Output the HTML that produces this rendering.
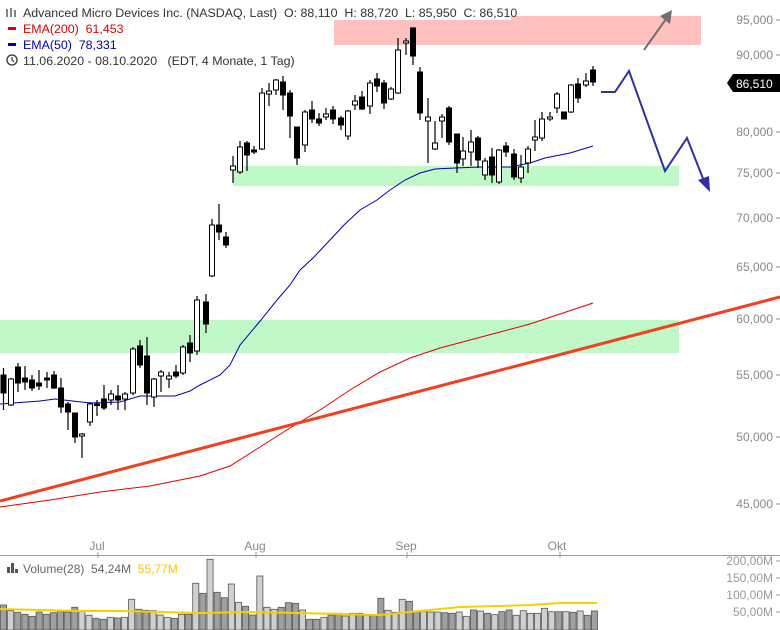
<!DOCTYPE html>
<html><head><meta charset="utf-8"><style>
body{margin:0;background:#fff;}
svg{display:block;font-family:"Liberation Sans",sans-serif;}
text{white-space:pre;}
</style></head><body>
<svg id="s" width="780" height="630" viewBox="0 0 780 630" xmlns="http://www.w3.org/2000/svg">
<rect x="0" y="0" width="780" height="630" fill="#fff"/>
<rect x="334" y="16" width="367" height="29" fill="#ffc0c0"/>
<rect x="0" y="320" width="679" height="33" fill="#c0f8c8"/>
<rect x="233" y="166" width="446" height="20" fill="#c0f8c8"/>
<rect x="0" y="0" width="511" height="20" fill="#fff"/>
<polyline fill="none" stroke="#e00000" stroke-width="1" points="0,507 50,500 100,492 150,486 200,476 230,466 260,447 290,428 320,410 350,390 380,372 410,358 440,348 470,340 500,332 530,324 560,314 593,303"/>
<polyline fill="none" stroke="#0000b0" stroke-width="1" points="0,404 40,401 55,399 90,403 120,402 140,396 175,396 190,391 200,385 220,375 230,365 240,345 261,320 277,300 290,285 300,270 313,258 330,240 345,224 360,210 377,200 390,190 405,180 420,173 435,169 455,168 480,167 510,167 530,163 545,158 570,153 593,146"/>
<line x1="0" y1="501" x2="780" y2="297" stroke="#f04020" stroke-width="3"/>
<g id="candles"></g>
<polyline fill="none" stroke="#3030a0" stroke-width="2" points="601,92 615,92 629,71 665,171 687,138 704,181"/>
<polygon points="698,180 710,192 709,176" fill="#3030a0"/>
<line x1="644" y1="50" x2="666" y2="19" stroke="#707070" stroke-width="2"/>
<polygon points="660,16 672,10 670,24" fill="#707070"/>
<g font-size="12" fill="#888" text-anchor="end">
<text x="773" y="24">95,000</text>
<text x="773" y="59">90,000</text>
<text x="773" y="136">80,000</text>
<text x="773" y="177">75,000</text>
<text x="773" y="222">70,000</text>
<text x="773" y="271">65,000</text>
<text x="773" y="323">60,000</text>
<text x="773" y="379">55,000</text>
<text x="773" y="441">50,000</text>
<text x="773" y="508">45,000</text>
</g>
<g stroke="#888"><line x1="776" y1="20" x2="780" y2="20"/><line x1="776" y1="55" x2="780" y2="55"/><line x1="776" y1="132" x2="780" y2="132"/><line x1="776" y1="173" x2="780" y2="173"/><line x1="776" y1="218" x2="780" y2="218"/><line x1="776" y1="267" x2="780" y2="267"/><line x1="776" y1="319" x2="780" y2="319"/><line x1="776" y1="375" x2="780" y2="375"/><line x1="776" y1="437" x2="780" y2="437"/><line x1="776" y1="504" x2="780" y2="504"/></g>
<polygon points="727,83 733,74 780,74 780,92 733,92" fill="#000"/>
<text x="736" y="88" font-size="12" fill="#fff">86,510</text>
<line x1="0" y1="555.5" x2="780" y2="555.5" stroke="#999"/>
<g stroke="#999"><line x1="98" y1="552" x2="98" y2="558"/><line x1="256" y1="552" x2="256" y2="558"/><line x1="407" y1="552" x2="407" y2="558"/><line x1="560" y1="552" x2="560" y2="558"/></g>
<g font-size="12" fill="#888" text-anchor="middle">
<text x="97" y="550">Jul</text><text x="255" y="550">Aug</text><text x="406" y="550">Sep</text><text x="557" y="550">Okt</text>
</g>
<g id="vol"></g>
<polyline fill="none" stroke="#f8d000" stroke-width="2" points="0,609 40,610 80,611 120,611 160,612 200,613 250,612 300,613 340,614 380,615 420,611 460,607 500,606 530,605 560,603 597,603"/>
<g font-size="12" fill="#999" text-anchor="end">
<text x="773" y="565">200,00M</text><text x="773" y="582">150,00M</text><text x="773" y="599">100,00M</text><text x="773" y="616">50,00M</text>
</g>
<g stroke="#999"><line x1="776" y1="561" x2="780" y2="561"/><line x1="776" y1="578" x2="780" y2="578"/><line x1="776" y1="595" x2="780" y2="595"/><line x1="776" y1="612" x2="780" y2="612"/></g>
<rect x="7" y="567" width="3" height="6" fill="#555"/><rect x="11" y="563" width="3" height="10" fill="#555"/><rect x="15" y="569" width="3" height="4" fill="#555"/>
<text x="23" y="573" font-size="12" fill="#666">Volume(28)  54,24M  <tspan fill="#f8c800">55,77M</tspan></text>
<g font-size="12.4">
<g stroke="#333" stroke-width="1.2"><line x1="7" y1="9" x2="7" y2="17"/><line x1="11" y1="8" x2="11" y2="17"/><line x1="15" y1="10" x2="15" y2="17"/></g>
<text x="23" y="17" fill="#333">Advanced Micro Devices Inc. (NASDAQ, Last)  O: 88,110  H: 88,720  L: 85,950  C: 86,510</text>
<rect x="8" y="27" width="8" height="3" fill="#e00000"/>
<text x="23" y="33" fill="#e00000">EMA(200)  61,453</text>
<rect x="8" y="43" width="8" height="3" fill="#0000b0"/>
<text x="23" y="49" fill="#0000b0">EMA(50)  78,331</text>
<circle cx="12" cy="60" r="5" fill="none" stroke="#333" stroke-width="1.3"/><path d="M12 57 V60 L14 62" fill="none" stroke="#333" stroke-width="1.2"/>
<text x="23" y="65" fill="#333">11.06.2020 - 08.10.2020   (EDT, 4 Monate, 1 Tag)</text>
</g>
</svg>
<script>
var C=[[3.5,375,393,0,368,410],[11,379,405,1,378,406],[18,367,383,0,363,392],[25,378,382,0,366,390],[32,380,388,0,375,391],[39,383,386,0,370,390],[47,378,380,0,372,388],[54,375,388,0,371,389],[61,388,407,0,378,413],[68,404,412,0,402,430],[75,413,437,0,413,443],[82,434,436,1,433,458],[90,404,422,1,402,426],[97,404,405,0,400,416],[104,399,408,0,385,410],[111,394,400,1,390,405],[118,396,400,0,385,410],[125,394,399,1,392,410],[133,349,393,1,347,395],[140,346,365,0,340,368],[147,356,393,0,337,405],[154,379,397,1,378,407],[161,372,376,1,370,392],[169,376,379,1,372,388],[176,372,376,0,365,378],[183,347,373,1,345,375],[190,343,353,0,335,362],[197,300,351,1,296,355],[206,302,324,0,294,333],[212,225,276,1,219,277],[219,225,232,0,204,240],[226,237,245,0,232,248],[233,166,170,1,156,183],[240,147,172,1,141,174],[247,143,155,0,141,171],[254,150,152,0,146,154],[262,93,149,1,88,150],[269,91,94,1,83,106],[276,80,90,1,79,95],[283,82,95,0,76,110],[290,93,116,0,90,138],[297,127,158,0,127,165],[305,112,145,1,110,152],[312,110,119,0,101,123],[319,119,123,0,113,126],[326,114,117,1,108,120],[333,110,119,0,106,124],[341,118,125,0,116,130],[348,111,136,1,110,140],[355,101,105,1,95,110],[362,97,109,0,91,110],[370,83,106,1,80,114],[377,79,86,0,73,92],[384,83,103,0,80,109],[391,89,99,1,87,100],[398,50,93,1,38,94],[406,41,43,1,38,55],[413,28,56,0,27,65],[420,72,113,0,67,120],[428,117,121,1,98,163],[435,143,149,1,121,150],[442,117,121,1,114,138],[449,108,142,0,106,145],[457,134,163,0,134,173],[463,151,159,1,137,166],[471,142,152,1,130,166],[478,138,160,0,136,168],[485,161,175,1,158,180],[492,157,175,0,148,183],[499,150,182,1,149,184],[506,146,152,0,142,157],[514,154,177,0,149,180],[521,167,178,1,155,183],[528,149,163,1,146,173],[535,137,140,1,120,151],[542,119,138,1,112,141],[550,117,119,1,112,121],[557,94,108,1,92,113],[564,112,119,0,112,119],[571,85,112,1,84,113],[578,84,98,0,78,103],[586,81,85,1,73,87],[593,70,82,0,66,86]];
var h='';
C.forEach(function(c){var x=c[0];h+='<line x1="'+x+'" y1="'+c[4]+'" x2="'+x+'" y2="'+c[5]+'" stroke="#000" stroke-width="1.2"/>';
var hh=Math.max(c[2]-c[1],1.5);
h+='<rect x="'+(x-2.5)+'" y="'+c[1]+'" width="5" height="'+hh+'" fill="'+(c[3]?'#fff':'#000')+'" stroke="#000" stroke-width="1"/>';});
document.getElementById('candles').innerHTML=h;
var V=[165,182,187,193,199,186,193,188,184,186,172,184,196,205,208,202,204,202,148,178,181,182,195,202,205,193,193,100,130,28,127,143,102,157,169,195,78,172,178,172,158,160,180,208,208,202,195,190,198,190,190,196,196,145,181,187,148,154,184,184,186,186,188,190,186,199,180,183,190,194,185,180,196,182,190,190,175,185,185,185,187,183,196,183];
var w=598/V.length,v='';
V.forEach(function(t,i){var y=550+t/3;var up=C[Math.min(i,C.length-1)][3];
v+='<rect x="'+(i*w+0.5).toFixed(1)+'" y="'+y.toFixed(1)+'" width="'+(w-1).toFixed(1)+'" height="'+(630-y).toFixed(1)+'" fill="'+(up?'#d0d0d0':'#a0a0a0')+'" stroke="#555" stroke-width="0.8"/>';});
document.getElementById('vol').innerHTML=v;
</script>
</body></html>
